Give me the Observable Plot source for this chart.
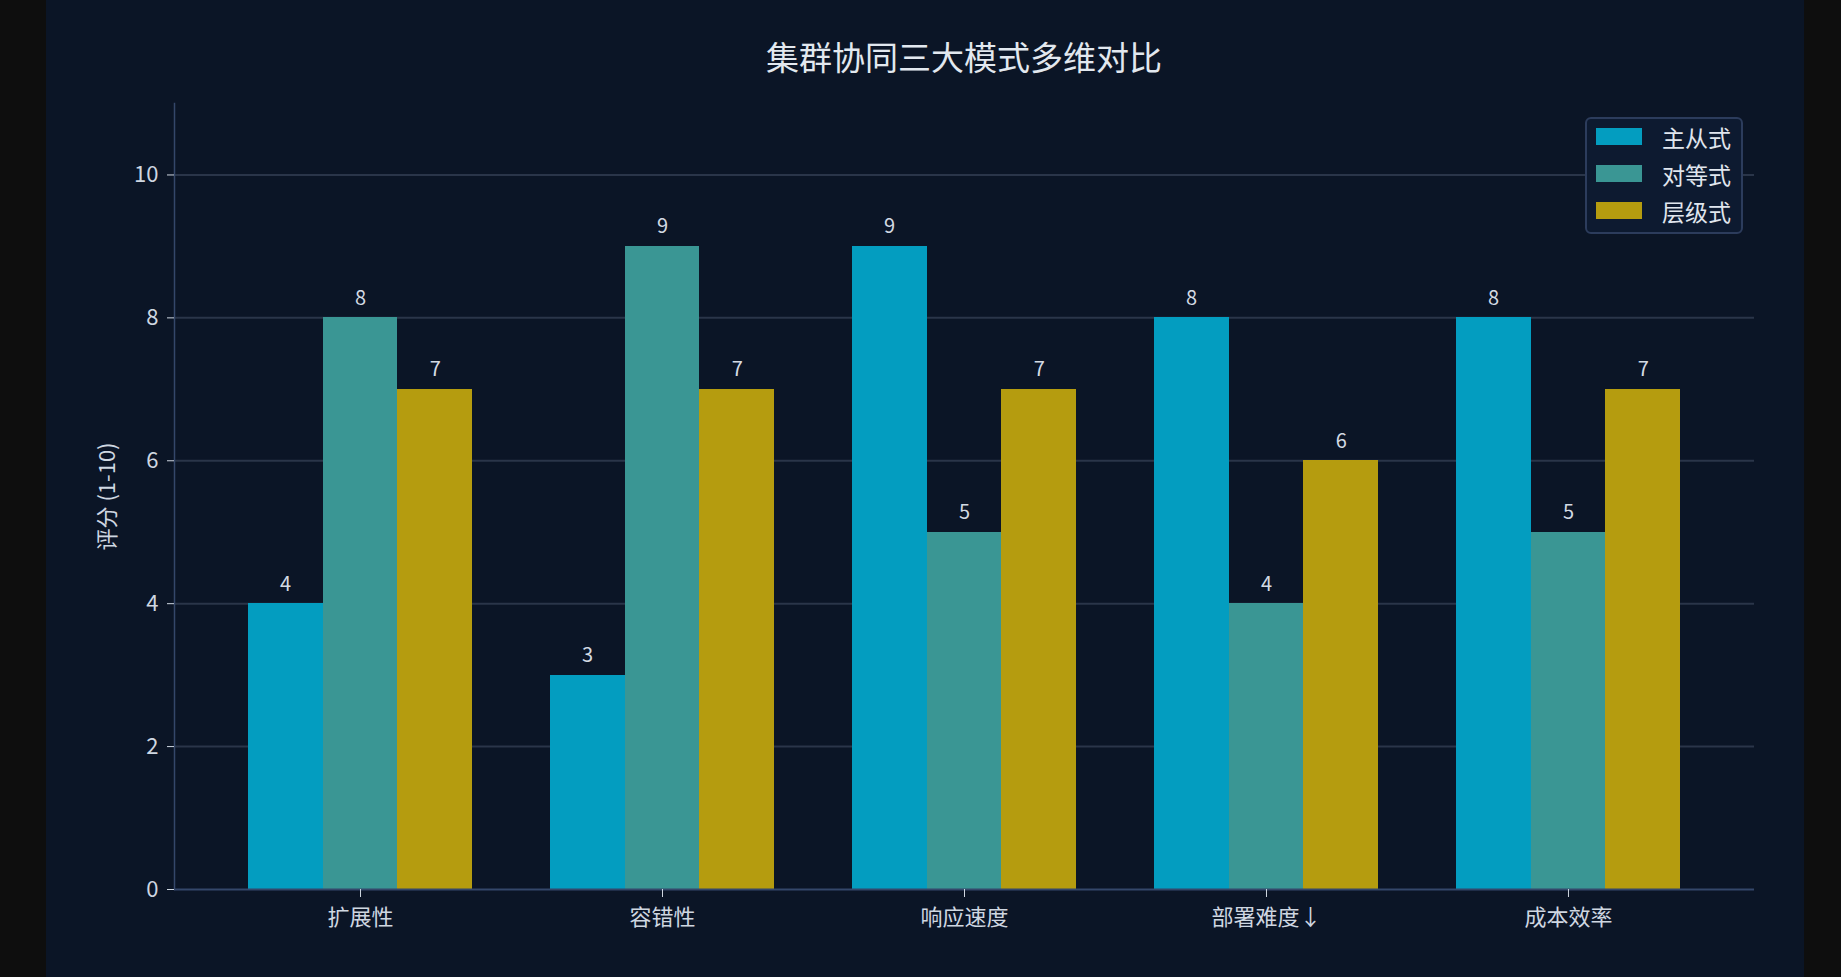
<!DOCTYPE html>
<html>
<head>
<meta charset="utf-8">
<script src="https://cdn.jsdelivr.net/npm/d3@7"></script>
<script src="https://cdn.jsdelivr.net/npm/@observablehq/plot@0.6"></script>
<style>
  html, body { margin: 0; padding: 0; background: #0e0e0e; }
  body { width: 1841px; height: 977px; overflow: hidden; position: relative;
         font-family: "Noto Sans CJK SC", "Noto Sans", sans-serif; }
  #panel { position: absolute; left: 46px; top: 0; width: 1758px; height: 977px; background: #0b1526; }
  #title { position: absolute; left: 128px; width: 1580px; top: 34px; text-align: center;
           color: #e2e8ef; font-size: 33px; line-height: 44px; }
  #chart { position: absolute; left: 0; top: 0; }
  #legend { position: absolute; left: 1539px; top: 117px; width: 158px; height: 117px;
            border: 2px solid #2c3c5c; border-radius: 6px; background: #0d1a30; box-sizing: border-box; }
  .row { position: absolute; left: 9px; height: 37px; display: flex; align-items: center; }
  .sw { width: 46px; height: 17px; margin-right: 20px; }
  .lab { color: #e0e6ee; font-size: 23px; }
</style>
</head>
<body>
<div id="panel">
  <div id="chart"></div>
  <div id="title">集群协同三大模式多维对比</div>
  <div id="legend"></div>
</div>
<script>
const categories = ["扩展性", "容错性", "响应速度", "部署难度↓", "成本效率"];
const series = ["主从式", "对等式", "层级式"];
const masterSlave = [4, 3, 9, 8, 8];
const peerToPeer = [8, 9, 5, 4, 5];
const hierarchical = [7, 7, 7, 6, 7];
const colors = ["#039dc0", "#3a9694", "#b59c0f"];
const yTicks = [0, 2, 4, 6, 8, 10];
const gridTicks = [2, 4, 6, 8, 10];

// layout constants (in category units)
const barWidth = 0.248;
const groupWidth = barWidth * series.length;
const xPad = 0.616;

const values = [masterSlave, peerToPeer, hierarchical];
const data = [];
categories.forEach((c, i) => {
  series.forEach((s, j) => data.push({cat: c, i, j, series: s, value: values[j][i]}));
});

const chart = Plot.plot({
  width: 1758,
  height: 977,
  marginLeft: 128,
  marginRight: 50,
  marginTop: 103,
  marginBottom: 88,
  style: {background: "transparent", color: "#cfd7e1", fontSize: "22px",
          fontFamily: "'Noto Sans CJK SC', 'Noto Sans', sans-serif"},
  x: {domain: [-xPad, categories.length - 1 + xPad]},
  y: {domain: [0, 11]},
  color: {domain: series, range: colors},
  marks: [
    Plot.ruleY(gridTicks, {stroke: "#2a3549", strokeWidth: 2}),
    Plot.rectY(data, {
      x1: d => d.i - groupWidth / 2 + d.j * barWidth,
      x2: d => d.i - groupWidth / 2 + (d.j + 1) * barWidth,
      y: "value", fill: "series", inset: 0, shapeRendering: "crispEdges"
    }),
    Plot.text(data, {
      x: d => d.i - groupWidth / 2 + (d.j + 0.5) * barWidth,
      y: "value", text: d => String(d.value),
      dy: -13, lineAnchor: "bottom", fill: "#d3dae3", fontSize: 20
    }),
    Plot.ruleY([0], {stroke: "#34476a", strokeWidth: 2}),
    Plot.frame({anchor: "left", stroke: "#34476a", strokeWidth: 1.5}),
    Plot.axisY({ticks: yTicks, tickSize: 7, tickPadding: 9, label: "评分 (1-10)",
                labelAnchor: "center", labelArrow: "none", labelOffset: 75}),
    Plot.axisX({ticks: d3.range(categories.length), tickFormat: i => categories[i],
                tickSize: 8, tickPadding: 12, label: null})
  ]
});
document.getElementById("chart").appendChild(chart);

const legend = document.getElementById("legend");
series.forEach((s, j) => {
  const row = document.createElement("div");
  row.className = "row";
  row.style.top = (-1 + j * 37) + "px";
  row.innerHTML = `<div class="sw" style="background:${colors[j]}"></div><span class="lab">${s}</span>`;
  legend.appendChild(row);
});
</script>
</body>
</html>
